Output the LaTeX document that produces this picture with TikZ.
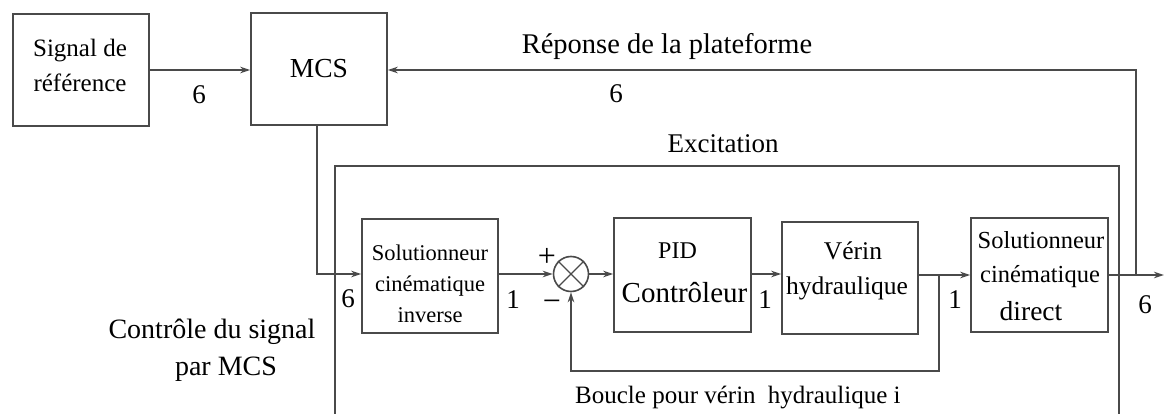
\documentclass[tikz,border=0pt]{standalone}
\usepackage{fontspec}
\setmainfont{Liberation Serif}
\usetikzlibrary{arrows.meta,calc}
\definecolor{linec}{HTML}{4A4A4A}
\newcommand{\fs}[1]{\fontsize{#1}{#1}\selectfont}
\begin{document}
\begin{tikzpicture}[x=1pt,y=-1pt,
  box/.style={draw=linec, line width=1.6pt, inner sep=0pt},
  lbl/.style={inner sep=0pt, anchor=base, text=black},
  conn/.style={draw=linec, line width=1.6pt},
  arr/.style={conn, -{Stealth[length=10pt,width=6.5pt]}},
]
\useasboundingbox (0,0) rectangle (1164,414);
% boxes
\node[box, minimum width=136pt, minimum height=112pt] (sig) at (81,70) {};
\node[box, minimum width=136pt, minimum height=112pt] (mcs) at (319,69) {};
\node[box, minimum width=136pt, minimum height=114pt] (inv) at (430,276) {};
\node[box, circle, minimum size=35pt] (circ) at (571,274) {};
\draw[linec, line width=1.2pt] (circ.north west) -- (circ.south east) (circ.north east) -- (circ.south west);
\node[box, minimum width=137pt, minimum height=114pt] (pid) at (682.5,275) {};
\node[box, minimum width=136pt, minimum height=112pt] (ver) at (850,278) {};
\node[box, minimum width=137pt, minimum height=114pt] (dir) at (1039.5,275) {};
% excitation frame
\coordinate (exbl) at (335,414);
\coordinate (extl) at (335,166);
\coordinate (extr) at (1119,166);
\coordinate (exbr) at (1119,414);
\draw[conn] (exbl) -- (extl) -- (extr) -- (exbr);
% coordinates
\coordinate (row) at (0,275);
\coordinate (br) at (939,275);
\coordinate (lp) at (939,371);
\coordinate (jn) at (1136,275);
\coordinate (fb) at (1136,70);
\coordinate (out) at (1164,275);
% connectors
\draw[arr] (sig.east |- fb) -- (mcs.west |- fb);
\draw[arr] (jn) -- (fb) -- (mcs.east |- fb);
\draw[arr] (mcs.south -| 317,0) -- (317,274) -- (inv.west |- circ);
\draw[arr] (inv.east |- circ) -- (circ.west);
\draw[arr] (circ.east) -- (pid.west |- circ);
\draw[arr] (pid.east |- circ) -- (ver.west |- circ);
\draw[arr] (ver.east |- row) -- (dir.west |- row);
\draw[arr] (dir.east |- row) -- (out);
\draw[arr] (br) -- (lp) -| (circ.south);
% box texts
\node[lbl, font=\fs{25}] (sigA) at (80,57) {Signal de};
\node[lbl, font=\fs{25}] (sigB) at (80,92) {référence};
\node[lbl, font=\fs{27.5}] (mcsT) at (319,78) {MCS};
\node[lbl, font=\fs{22.5}] (invA) at (430,260) {Solutionneur};
\node[lbl, font=\fs{22.5}] (invB) at (430,291) {cinématique};
\node[lbl, font=\fs{22.5}] (invC) at (430,322) {inverse};
\node[lbl, font=\fs{24}] (pidA) at (677.5,258) {PID};
\node[lbl, font=\fs{29}] (pidB) at (684.5,302) {Contrôleur};
\node[lbl, font=\fs{25.5}] (verA) at (853,259) {Vérin};
\node[lbl, font=\fs{25.5}] (verB) at (847,294) {hydraulique};
\node[lbl, font=\fs{24.5}] (dirA) at (1041,248) {Solutionneur};
\node[lbl, font=\fs{24.5}] (dirB) at (1040,282) {cinématique};
\node[lbl, font=\fs{27.5}] (dirC) at (1031,320) {direct};
% other labels
\node[lbl, font=\fs{27}] (n1) at (199,104) {6};
\node[lbl, font=\fs{28.5}] (rep) at (667,54) {Réponse de la plateforme};
\node[lbl, font=\fs{27}] (n2) at (616,103) {6};
\node[lbl, font=\fs{27}] (exc) at (723,153) {Excitation};
\node[lbl, font=\fs{27}] (n3) at (348,307) {6};
\node[lbl, font=\fs{27}] (n4) at (513,308) {1};
\node[inner sep=0pt, font=\fs{32}] (plus) at (547,257) {+};
\node[inner sep=0pt, font=\fs{32}] (minus) at (552,306) {−};
\node[lbl, font=\fs{27}] (n5) at (765,308) {1};
\node[lbl, font=\fs{27}] (n6) at (955,308) {1};
\node[lbl, font=\fs{27}] (n7) at (1145,313) {6};
\node[lbl, anchor=base west, font=\fs{25}] (bouc) at (575,403) {Boucle pour vérin\hspace{6pt} hydraulique i};
\node[lbl, font=\fs{28}] (ctA) at (212,338) {Contrôle du signal};
\node[lbl, font=\fs{28}] (ctB) at (226,375) {par MCS};
\end{tikzpicture}
\end{document}
